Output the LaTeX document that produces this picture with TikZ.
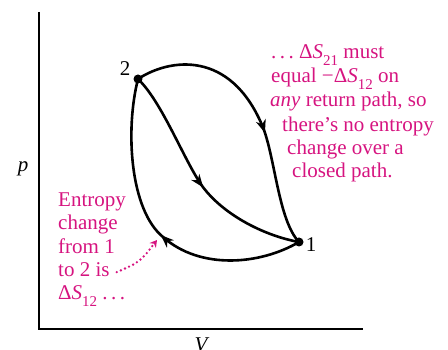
\documentclass[tikz,border=0pt]{standalone}
\usepackage{fontspec}
\setmainfont{Liberation Serif}
\usetikzlibrary{arrows.meta,decorations.markings}
\definecolor{pinkm}{RGB}{214,20,128}
\newcommand{\sbs}[1]{\raisebox{-0.3em}{\fontsize{15}{15}\selectfont #1}}
\newcommand{\dS}[1]{Δ\textit{S}\sbs{#1}}
\begin{document}
\begin{tikzpicture}[x=1pt,y=-1pt,
 every node/.style={inner sep=0pt, font=\fontsize{21}{24}\selectfont},
 pinktext/.style={text=pinkm, anchor=base west},
 curve/.style={line width=2.6pt, black},
 axis/.style={line width=1.3pt},
 dot/.style={circle, fill=black, minimum size=9pt, inner sep=0pt},
 midarrow/.style={postaction={decorate}, decoration={markings, mark=at position #1 with {\arrow{Stealth[length=13pt,width=10pt,inset=4pt]}}}}
]
\useasboundingbox (0,0) rectangle (448,350);
\coordinate (O) at (39,329);
\coordinate (ytop) at (39,12);
\coordinate (xend) at (363,329);
\draw[axis] (ytop) -- (O) -- (xend);
\node[anchor=base] (plab) at (23,172) {\textit{p}};
\node[anchor=base] (vlab) at (202,352) {\textit{V}};
\node[dot] (n2) at (138,79) {};
\node[dot] (n1) at (299,242) {};
\node[anchor=base] (l2) at (125,76) {2};
\node[anchor=base] (l1) at (311,252) {1};
\draw[curve, midarrow=0.585] (n2.center) .. controls (170,58) and (230,50) .. (262,125) .. controls (275,155) and (278,220) .. (n1.center);
\draw[curve, midarrow=0.53] (n2.center) .. controls (160,100) and (180,150) .. (197,178) .. controls (215,210) and (260,235) .. (n1.center);
\draw[curve, midarrow=0.475] (n1.center) .. controls (260,265) and (200,270) .. (163,237) .. controls (130,210) and (125,130) .. (n2.center);
\node[pinktext] (e1) at (58,207) {Entropy};
\node[pinktext] (e2) at (58,230) {change};
\node[pinktext] (e3) at (58,254) {from 1};
\node[pinktext] (e4) at (58,277) {to 2 is};
\node[pinktext] (e5) at (58,300) {\dS{12} .\,.\,.};
\node[pinktext] (r1) at (271,59) {.\,.\,.\ \dS{21} must};
\node[pinktext] (r2) at (271,83) {equal −\dS{12} on};
\node[pinktext] (r3) at (270,107) {\textit{any} return path, so};
\node[pinktext] (r4) at (282,132) {there’s no entropy};
\node[pinktext] (r5) at (287,155) {change over a};
\node[pinktext] (r6) at (292,178) {closed path.};
\coordinate (de) at (157,240);
\draw[pinkm, line width=2.6pt, line cap=round, dash pattern=on 0pt off 4.5pt, -{Stealth[length=7pt,width=8pt]}] ([xshift=7pt,yshift=-2pt]e4.east) .. controls (140,262) .. (de);
\end{tikzpicture}
\end{document}
